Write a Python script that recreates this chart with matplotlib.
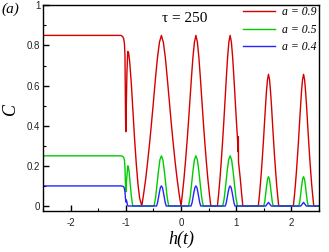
import matplotlib
matplotlib.use("Agg")
import matplotlib.pyplot as plt
from matplotlib.ticker import MultipleLocator, FixedLocator

plt.rcParams['axes.unicode_minus'] = False

# ---- data ----
red_h = [-2.5, -1.09, -1.06, -1.04, -1.025, -1.015, -1.01, -1.005, -1.0, -0.98, -0.965, -0.95, -0.93, -0.90,
         -0.87, -0.84, -0.81, -0.78, -0.75,
         -0.71, -0.675, -0.639, -0.604, -0.568, -0.533, -0.497, -0.462, -0.426, -0.39, -0.355, -0.32, -0.284,
         -0.249, -0.213, -0.178, -0.142, -0.107, -0.071, -0.036,
         0.0, 0.027, 0.054, 0.081, 0.108, 0.135, 0.162, 0.189, 0.216, 0.243, 0.27, 0.297, 0.324, 0.351, 0.378,
         0.405, 0.432, 0.459, 0.486, 0.513, 0.54,
         0.66, 0.683, 0.706, 0.729, 0.752, 0.775, 0.798, 0.821, 0.844, 0.867, 0.89, 0.913, 0.936, 0.959, 0.982,
         1.005, 1.028, 1.036, 1.039, 1.042, 1.074, 1.097, 1.12,
         1.40, 1.419, 1.437, 1.456, 1.474, 1.493, 1.511, 1.530, 1.548, 1.567, 1.585, 1.604, 1.622, 1.641,
         1.659, 1.678, 1.696, 1.715, 1.733, 1.752, 1.77,
         2.035, 2.054, 2.072, 2.091, 2.109, 2.128, 2.146, 2.165, 2.183, 2.202, 2.22, 2.239, 2.257, 2.276,
         2.294, 2.313, 2.331, 2.350, 2.368, 2.387, 2.405,
         2.5]
red_c = [0.85, 0.85, 0.845, 0.835, 0.81, 0.75, 0.60, 0.45, 0.37, 0.66, 0.77, 0.765, 0.72, 0.61,
         0.47, 0.33, 0.21, 0.11, 0.04,
         0.0, 0.064, 0.136, 0.221, 0.315, 0.417, 0.527, 0.638, 0.74, 0.816, 0.85, 0.816, 0.74,
         0.638, 0.527, 0.417, 0.315, 0.221, 0.136, 0.064,
         0.0, 0.064, 0.136, 0.221, 0.315, 0.417, 0.527, 0.638, 0.74, 0.816, 0.85, 0.816, 0.74, 0.638, 0.527,
         0.417, 0.315, 0.221, 0.136, 0.064, 0.0,
         0.0, 0.064, 0.136, 0.221, 0.315, 0.417, 0.527, 0.638, 0.74, 0.816, 0.85, 0.816, 0.74, 0.638, 0.527,
         0.417, 0.315, 0.27, 0.345, 0.22, 0.136, 0.064, 0.0,
         0.0, 0.049, 0.105, 0.171, 0.243, 0.321, 0.407, 0.492, 0.571, 0.63, 0.656, 0.63, 0.571, 0.492,
         0.407, 0.321, 0.243, 0.171, 0.105, 0.049, 0.0,
         0.0, 0.049, 0.105, 0.171, 0.243, 0.321, 0.407, 0.492, 0.571, 0.63, 0.656, 0.63, 0.571, 0.492,
         0.407, 0.321, 0.243, 0.171, 0.105, 0.049, 0.0,
         0.0]

green_h = [-2.5, -1.09, -1.06, -1.04, -1.025, -1.015, -1.008, -1.0, -0.985, -0.965, -0.955, -0.94, -0.92,
           -0.90, -0.88, -0.87,
           -0.488, -0.461, -0.435, -0.408, -0.382, -0.355, -0.328, -0.302, -0.275, -0.249, -0.222,
           0.137, 0.164, 0.190, 0.217, 0.243, 0.27, 0.297, 0.323, 0.350, 0.376, 0.403,
           0.757, 0.784, 0.810, 0.837, 0.863, 0.89, 0.917, 0.943, 0.970, 0.996, 1.023,
           1.50, 1.517, 1.534, 1.551, 1.568, 1.585, 1.602, 1.619, 1.636, 1.653, 1.67,
           2.135, 2.152, 2.169, 2.186, 2.203, 2.22, 2.237, 2.254, 2.271, 2.288, 2.305,
           2.5]
green_c = [0.25, 0.25, 0.248, 0.243, 0.23, 0.19, 0.12, 0.07, 0.13, 0.20, 0.198, 0.17, 0.11,
           0.05, 0.01, 0.0,
           0.0, 0.04, 0.105, 0.175, 0.23, 0.25, 0.23, 0.175, 0.105, 0.04, 0.0,
           0.0, 0.04, 0.105, 0.175, 0.23, 0.25, 0.23, 0.175, 0.105, 0.04, 0.0,
           0.0, 0.04, 0.105, 0.175, 0.23, 0.25, 0.23, 0.175, 0.105, 0.04, 0.0,
           0.0, 0.022, 0.06, 0.101, 0.134, 0.146, 0.134, 0.101, 0.06, 0.022, 0.0,
           0.0, 0.022, 0.06, 0.101, 0.134, 0.146, 0.134, 0.101, 0.06, 0.022, 0.0,
           0.0]

blue_h = [-2.5, -1.09, -1.06, -1.04, -1.025, -1.015, -1.005, -0.998, -0.99, -0.98, -0.97, -0.96,
          -0.443, -0.425, -0.408, -0.390, -0.373, -0.355, -0.337, -0.320, -0.302, -0.285, -0.267,
          0.182, 0.200, 0.217, 0.235, 0.252, 0.27, 0.288, 0.305, 0.323, 0.340, 0.358,
          0.802, 0.820, 0.837, 0.855, 0.872, 0.89, 0.908, 0.925, 0.943, 0.960, 0.978,
          1.535, 1.56, 1.585, 1.61, 1.635,
          2.17, 2.195, 2.22, 2.245, 2.27,
          2.5]
blue_c = [0.10, 0.10, 0.099, 0.096, 0.088, 0.07, 0.035, 0.02, 0.03, 0.02, 0.005, 0.0,
          0.0, 0.016, 0.042, 0.07, 0.092, 0.10, 0.092, 0.07, 0.042, 0.016, 0.0,
          0.0, 0.016, 0.042, 0.07, 0.092, 0.10, 0.092, 0.07, 0.042, 0.016, 0.0,
          0.0, 0.016, 0.042, 0.07, 0.092, 0.10, 0.092, 0.07, 0.042, 0.016, 0.0,
          0.0, 0.009, 0.018, 0.009, 0.0,
          0.0, 0.009, 0.018, 0.009, 0.0,
          0.0]

labels = ['a = 0.9', 'a = 0.5', 'a = 0.4']
colors = ['#d40000', '#00cc00', '#2424ff']
x_ticks = [-2, -1, 0, 1, 2]
y_ticks = [0, 0.2, 0.4, 0.6, 0.8, 1.0]
y_ticklabels = ['0', '0.2', '0.4', '0.6', '0.8', '1']

# ---- figure ----
fig = plt.figure(figsize=(3.29, 2.52), dpi=100)
ax = fig.add_axes([0.1307, 0.1615, 0.8389, 0.8175])

for hs, cs, lab, col in zip([red_h, green_h, blue_h], [red_c, green_c, blue_c], labels, colors):
    ax.plot(hs, cs, color=col, lw=1.0, label=lab)

ax.set_xlim(-2.5, 2.5)
ax.set_ylim(-0.0264, 1.0)

ax.xaxis.set_major_locator(FixedLocator(x_ticks))
ax.xaxis.set_minor_locator(MultipleLocator(0.5))
ax.yaxis.set_major_locator(FixedLocator(y_ticks))
ax.set_yticklabels(y_ticklabels)
ax.yaxis.set_minor_locator(MultipleLocator(0.1))

for s in ax.spines.values():
    s.set_linewidth(1.0)

ax.tick_params(axis='both', which='major', direction='in', length=4, width=1.0,
               labelsize=7, labelcolor='#222222', labelfontfamily='Liberation Sans')
ax.tick_params(axis='both', which='minor', direction='in', length=2, width=0.8)
ax.tick_params(axis='x', which='major', pad=5)
ax.tick_params(axis='y', which='major', pad=2)

leg = ax.legend(loc='upper right', bbox_to_anchor=(0.99, 0.995), frameon=False,
                prop={'family': 'Liberation Serif', 'style': 'italic', 'size': 8.5},
                handlelength=2.7, handletextpad=0.55, labelspacing=0.45, borderpad=0.0,
                borderaxespad=0.0)

ax.text(0.514, 0.937, 'τ = 250', transform=ax.transAxes, ha='center', va='center',
        fontsize=11, family='Liberation Serif')

fig.text(0.005, 0.964, '(a)', ha='left', va='center', fontsize=11,
         family='Liberation Serif', style='italic')
fig.text(10 / 329, 1 - 108.8 / 252, 'C', rotation=90, ha='center', va='center',
         fontsize=13, family='Liberation Serif', style='italic')
fig.text(181 / 329, 1 - 239 / 252, 'h(t)', ha='center', va='center', fontsize=13,
         family='Liberation Serif', style='italic')

fig.savefig('out.png', dpi=100)
